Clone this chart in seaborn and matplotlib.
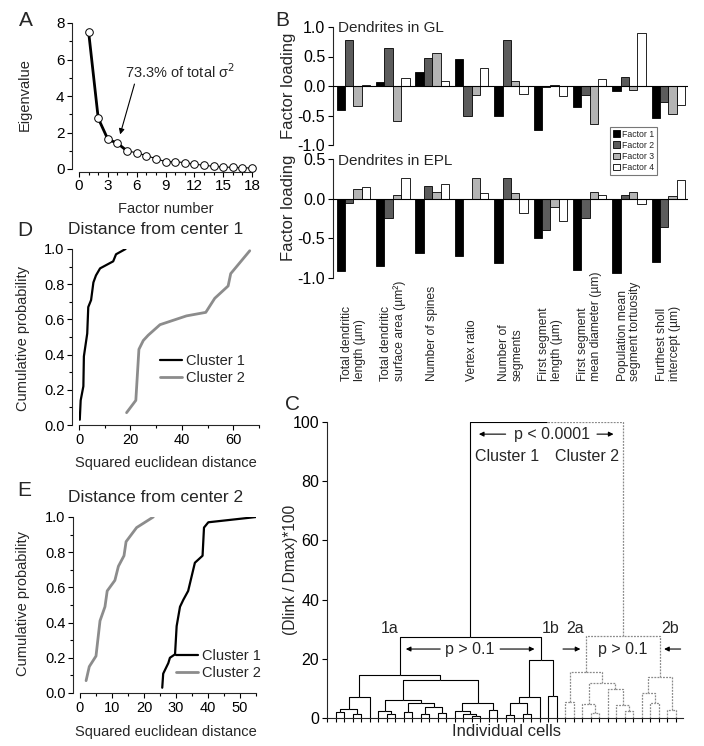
import numpy as np
import pandas as pd
import matplotlib
matplotlib.use('Agg')
from matplotlib import pyplot as plt
from matplotlib.patches import Patch
from matplotlib.ticker import MultipleLocator, FormatStrFormatter
import seaborn as sns

# ---------------------------------------------------------------------------------------------------------------------
# data
# A: scree plot
factor_num = list(range(1, 19))
eigenvalue = [7.52, 2.78, 1.63, 1.41, 0.99, 0.89, 0.73, 0.57, 0.40, 0.40, 0.35, 0.27, 0.20, 0.15, 0.11, 0.09,
              0.07, 0.05]

# B: factor loadings
param_names = ['Total dendritic\nlength (µm)', 'Total dendritic\nsurface area (µm²)', 'Number of spines',
               'Vertex ratio', 'Number of\nsegments', 'First segment\nlength (µm)',
               'First segment\nmean diameter (µm)', 'Population mean\nsegment tortuosity',
               'Furthest sholl\nintercept (µm)']
factor_names = ['Factor 1', 'Factor 2', 'Factor 3', 'Factor 4']
factor_colors = ['#000000', '#5c5c5c', '#b4b4b4', '#ffffff']

gl_f1 = [-0.41, 0.07, 0.24, 0.46, -0.51, -0.75, -0.355, -0.085, -0.54]
gl_f2 = [0.785, 0.65, 0.48, -0.51, 0.78, -0.02, -0.15, 0.15, -0.27]
gl_f3 = [-0.345, -0.60, 0.56, -0.15, 0.09, 0.01, -0.64, -0.06, -0.47]
gl_f4 = [0.01, 0.14, 0.08, 0.305, -0.135, -0.165, 0.12, 0.89, -0.33]

epl_f1 = [-0.91, -0.85, -0.69, -0.72, -0.815, -0.50, -0.895, -0.94, -0.795]
epl_f2 = [-0.05, -0.25, 0.165, -0.01, 0.265, -0.39, -0.24, 0.05, -0.36]
epl_f3 = [0.125, 0.04, 0.085, 0.265, 0.075, -0.11, 0.085, 0.09, 0.035]
epl_f4 = [0.145, 0.26, 0.19, 0.07, -0.175, -0.28, 0.04, -0.065, 0.24]

# C: dendrogram, 41 cells in display order; rows are (child a, child b, height), ids >= 41 are earlier rows
cell_cluster = [1] * 27 + [2] * 14
linkage = [
    (0, 1, 2.0), (2, 3, 1.5), (41, 42, 3.2), (43, 4, 7.2),                      # 1a, left
    (6, 7, 1.5), (5, 45, 2.5), (8, 9, 2.0), (10, 11, 1.5), (12, 13, 1.6),
    (48, 49, 3.8), (47, 50, 5.2), (46, 51, 6.1),                                # 1a, middle
    (16, 17, 0.8), (15, 53, 1.5), (14, 54, 2.5), (18, 19, 2.6), (55, 56, 5.0),  # 1a, right
    (52, 57, 12.8), (44, 58, 14.6),
    (20, 21, 0.9), (22, 23, 1.5), (60, 61, 5.0), (62, 24, 7.1), (25, 26, 7.5),
    (63, 64, 19.6),                                                             # 1b
    (59, 65, 27.5),
    (27, 28, 5.4), (30, 31, 1.7), (29, 68, 4.8), (34, 35, 2.5), (33, 70, 4.3),
    (32, 71, 9.8), (69, 72, 11.8), (67, 73, 15.7),                              # 2a
    (37, 38, 5.0), (36, 75, 8.5), (39, 40, 2.8), (76, 77, 13.7),                # 2b
    (74, 78, 27.8),
    (66, 79, 100.0),
]

# D, E: cumulative distributions of distances
d_c1_dist = [0.3, 0.65, 1.7, 1.9, 3.2, 3.6, 4.7, 5.6, 6.6, 8.2, 13.3, 14.4, 18.1]
d_c1_prob = [0.03, 0.14, 0.22, 0.39, 0.52, 0.67, 0.71, 0.81, 0.85, 0.89, 0.93, 0.97, 1.0]
d_c2_dist = [18.5, 22.1, 23.3, 25.0, 26.9, 31.5, 41.8, 49.3, 52.8, 58.0, 59.0, 66.4]
d_c2_prob = [0.07, 0.14, 0.43, 0.48, 0.51, 0.57, 0.62, 0.64, 0.72, 0.79, 0.86, 0.99]

e_c1_dist = [25.7, 26.0, 27.6, 28.1, 29.7, 30.2, 31.25, 32.3, 33.8, 35.9, 38.3, 38.75, 40.1, 53.1, 55.0]
e_c1_prob = [0.03, 0.11, 0.17, 0.20, 0.22, 0.38, 0.49, 0.53, 0.58, 0.74, 0.78, 0.94, 0.97, 0.996, 1.0]
e_c2_dist = [1.9, 2.9, 5.0, 6.25, 7.8, 8.5, 10.9, 12.0, 13.75, 14.4, 17.7, 22.9]
e_c2_prob = [0.07, 0.15, 0.21, 0.41, 0.49, 0.58, 0.64, 0.72, 0.78, 0.86, 0.94, 1.0]

# ---------------------------------------------------------------------------------------------------------------------
sns.set_theme(style='ticks', context='paper')
plt.rcParams['font.family'] = ['Liberation Sans', 'DejaVu Sans']
plt.rcParams['axes.unicode_minus'] = False
plt.rcParams['axes.linewidth'] = 0.8
for ax_name in ('xtick', 'ytick'):
    plt.rcParams[ax_name + '.major.width'] = 0.8
    plt.rcParams[ax_name + '.minor.width'] = 0.8
    plt.rcParams[ax_name + '.major.size'] = 3.5
    plt.rcParams[ax_name + '.minor.size'] = 2.0
    plt.rcParams[ax_name + '.color'] = 'black'

W, H = 704, 746
fig = plt.figure(figsize=(W / 100, H / 100), dpi=100)


def px_axes(left, top, right, bottom):
    return fig.add_axes([left / W, 1 - bottom / H, (right - left) / W, (bottom - top) / H])


def px_text(x, y, s, **kw):
    fig.text(x / W, 1 - y / H, s, **kw)


# panel letters
for letter, (x, y) in zip('ABCDE', [(26, 21), (282, 21), (292, 404), (25, 230), (24, 491)]):
    px_text(x, y, letter, fontsize=15, ha='center', va='center')

# --- A ---------------------------------------------------------------------------------------------------------------
axA = px_axes(79, 23, 252, 169)
sns.lineplot(x=factor_num, y=eigenvalue, color='black', linewidth=0.8, ax=axA)
sns.lineplot(x=factor_num[:5], y=eigenvalue[:5], color='black', linewidth=2.0, ax=axA)
sns.scatterplot(x=factor_num, y=eigenvalue, s=30, facecolor='white', edgecolor='black', linewidth=0.7,
                zorder=5, clip_on=False, ax=axA)
axA.set_xlim(0, 18)
axA.set_ylim(0, 8)
axA.xaxis.set_major_locator(MultipleLocator(3))
axA.xaxis.set_minor_locator(MultipleLocator(1))
axA.yaxis.set_major_locator(MultipleLocator(2))
axA.yaxis.set_minor_locator(MultipleLocator(1))
axA.tick_params(labelsize=11, pad=2)
sns.despine(ax=axA)
axA.spines['left'].set_position(('outward', 5))
axA.spines['bottom'].set_position(('outward', 2))
axA.text(4.79, 5.33, '73.3% of total σ$^2$', fontsize=10.5, va='center', ha='left')
axA.annotate('', xy=(4.2, 1.75), xytext=(5.85, 4.8),
             arrowprops=dict(arrowstyle='-|>', color='black', lw=0.8, mutation_scale=8))
px_text(166, 209, 'Factor number', fontsize=10.5, ha='center', va='center')
px_text(25, 95, 'Eigenvalue', fontsize=10.5, ha='center', va='center', rotation=90)


# --- B ---------------------------------------------------------------------------------------------------------------
def long_table(f1, f2, f3, f4):
    rows = []
    for name, vals in zip(factor_names, (f1, f2, f3, f4)):
        for p, v in zip(param_names, vals):
            rows.append((p, name, v))
    return pd.DataFrame(rows, columns=['param', 'factor', 'loading'])


axB1 = px_axes(333, 27, 688, 145)
axB2 = px_axes(333, 159, 688, 278)
for ax, table, lims, ticks, title, ylab_y in (
        (axB1, long_table(gl_f1, gl_f2, gl_f3, gl_f4), (-1, 1), [-1, -0.5, 0, 0.5, 1], 'Dendrites in GL', 86),
        (axB2, long_table(epl_f1, epl_f2, epl_f3, epl_f4), (-1, 0.5), [-1, -0.5, 0, 0.5], 'Dendrites in EPL', 208)):
    sns.barplot(data=table, x='param', y='loading', hue='factor', order=param_names, hue_order=factor_names,
                palette=factor_colors, saturation=1, edgecolor='black', linewidth=0.6, width=0.85,
                errorbar=None, legend=False, ax=ax)
    ax.axhline(0, color='black', lw=0.8, zorder=3)
    ax.set_xlim(-0.52, 8.5)
    ax.set_ylim(*lims)
    ax.set_yticks(ticks)
    ax.yaxis.set_major_formatter(FormatStrFormatter('%.1f'))
    ax.set_xticks([])
    ax.set_xlabel('')
    ax.set_ylabel('')
    ax.tick_params(axis='y', labelsize=11.5, pad=2)
    sns.despine(ax=ax, bottom=True)
    ax.text(0.014, lims[1] - 0.02, title, transform=ax.get_yaxis_transform(), fontsize=11, va='center')
    px_text(288, ylab_y, 'Factor loading', fontsize=12, ha='center', va='center', rotation=90)

for i, name in enumerate(param_names):
    axB2.text(i, -0.862, name, transform=axB2.get_xaxis_transform(), rotation=90, fontsize=8.7,
              ha='center', va='bottom', multialignment='left', linespacing=1.1)

fig.legend([Patch(facecolor=c, edgecolor='black', linewidth=0.6) for c in factor_colors], factor_names,
           loc='upper left', bbox_to_anchor=(610 / W, 1 - 127 / H), fontsize=6.3, frameon=True, fancybox=False,
           edgecolor='#777777', framealpha=1, handlelength=0.8, handleheight=0.8, handletextpad=0.3,
           labelspacing=0.25, borderpad=0.3, borderaxespad=0)

# --- C ---------------------------------------------------------------------------------------------------------------
axC = px_axes(327, 422, 683, 718)
n_cells = len(cell_cluster)
xpos = {i: float(i) for i in range(n_cells)}
hgt = {i: 0.0 for i in range(n_cells)}
members = {i: {cell_cluster[i]} for i in range(n_cells)}
for k, (a, b, h) in enumerate(linkage):
    node = n_cells + k
    xpos[node] = (xpos[a] + xpos[b]) / 2
    hgt[node] = h
    members[node] = members[a] | members[b]
    for child in (a, b):
        if members[child] == {2}:
            style = dict(color='#8a8a8a', lw=0.9, ls=(0, (1.5, 1)))
        else:
            style = dict(color='black', lw=0.8, ls='-')
        axC.plot([xpos[child], xpos[child], xpos[node]], [hgt[child], h, h], solid_capstyle='butt', **style)
axC.set_xlim(-1.05, 40.85)
axC.set_ylim(0, 100)
axC.set_xticks(range(-1, 41))
axC.set_xticklabels([])
axC.yaxis.set_major_locator(MultipleLocator(20))
axC.tick_params(axis='y', labelsize=11.5, pad=2)
axC.tick_params(axis='x', length=3)
sns.despine(ax=axC)

txt = dict(fontsize=11.5, ha='center', va='center')
arr = dict(arrowstyle='-|>', color='black', lw=0.8, mutation_scale=7)
axC.text(25.4, 95.9, 'p < 0.0001', **txt)
axC.annotate('', xy=(16.5, 95.9), xytext=(20.3, 95.9), arrowprops=arr)
axC.annotate('', xy=(33.0, 95.9), xytext=(30.4, 95.9), arrowprops=arr)
axC.text(20.1, 88.5, 'Cluster 1', **txt)
axC.text(29.5, 88.5, 'Cluster 2', **txt)
for label, x in (('1a', 6.3), ('1b', 25.3), ('2a', 28.1), ('2b', 39.3)):
    axC.text(x, 30.3, label, **txt)
axC.text(15.8, 23.3, 'p > 0.1', **txt)
axC.annotate('', xy=(7.9, 23.3), xytext=(12.6, 23.3), arrowprops=arr)
axC.annotate('', xy=(23.7, 23.3), xytext=(19.0, 23.3), arrowprops=arr)
axC.text(33.8, 23.3, 'p > 0.1', **txt)
axC.annotate('', xy=(29.1, 23.3), xytext=(26.4, 23.3), arrowprops=arr)
axC.annotate('', xy=(38.3, 23.3), xytext=(40.9, 23.3), arrowprops=arr, annotation_clip=False)
px_text(507, 732, 'Individual cells', fontsize=12, ha='center', va='center')
px_text(290, 570, '(Dlink / Dmax)*100', fontsize=11.2, ha='center', va='center', rotation=90)

# --- D, E ------------------------------------------------------------------------------------------------------------
axD = px_axes(79, 249, 259, 425)
axE = px_axes(80, 517, 256, 693)
for ax, c1x, c1y, c2x, c2y, xmax, xmaj, xmin in (
        (axD, d_c1_dist, d_c1_prob, d_c2_dist, d_c2_prob, 70, 20, 10),
        (axE, e_c1_dist, e_c1_prob, e_c2_dist, e_c2_prob, 55, 10, 5)):
    sns.lineplot(x=c1x, y=c1y, color='black', linewidth=1.6, sort=False, estimator=None, label='Cluster 1',
                 ax=ax)
    sns.lineplot(x=c2x, y=c2y, color='#8c8c8c', linewidth=2.0, sort=False, estimator=None, label='Cluster 2',
                 ax=ax)
    ax.set_xlim(0, xmax)
    ax.set_ylim(0, 1)
    ax.xaxis.set_major_locator(MultipleLocator(xmaj))
    ax.xaxis.set_minor_locator(MultipleLocator(xmin))
    ax.yaxis.set_major_locator(MultipleLocator(0.2))
    ax.yaxis.set_minor_locator(MultipleLocator(0.1))
    ax.yaxis.set_major_formatter(FormatStrFormatter('%.1f'))
    ax.tick_params(labelsize=10.5, pad=2)
    sns.despine(ax=ax)
    ax.spines['left'].set_position(('outward', 5))

for ax, (lx, ly), ty, xl_y, yl_y, title in (
        (axD, (160, 354), 229, 463, 338, 'Distance from center 1'),
        (axE, (176, 649), 497, 732, 604, 'Distance from center 2')):
    ax.legend(loc='upper left', bbox_to_anchor=(lx / W, 1 - ly / H), bbox_transform=fig.transFigure,
              frameon=False, fontsize=10.5, handlelength=1.5, handletextpad=0.3, labelspacing=0.2,
              borderpad=0, borderaxespad=0)
    px_text(68, ty, title, fontsize=12.5, ha='left', va='center')
    px_text(166, xl_y, 'Squared euclidean distance', fontsize=10.5, ha='center', va='center')
    px_text(23, yl_y, 'Cumulative probability', fontsize=10.5, ha='center', va='center', rotation=90)

fig.savefig('out.png', dpi=100)
